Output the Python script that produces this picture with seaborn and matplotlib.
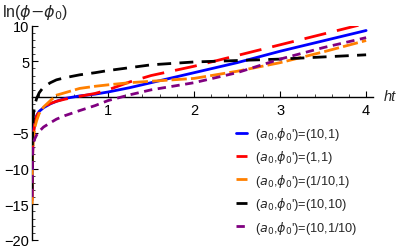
import matplotlib
matplotlib.use("Agg")
import matplotlib.pyplot as plt
from matplotlib.ticker import MultipleLocator
from matplotlib.lines import Line2D
import seaborn as sns
import pandas as pd

t = [0.117, 0.12, 0.125, 0.135, 0.15, 0.17, 0.2, 0.25, 0.33, 0.4, 0.5,
     0.67, 0.85, 1.0, 1.25, 1.5, 2.0, 2.5, 3.0, 3.5, 4.0]

blue_10_1 = [-14, -9, -6.5, -4.6, -3.4, -2.6, -2.0, -1.5, -0.95, -0.6, -0.2,
             0.15, 0.4, 0.7, 1.3, 2.0, 3.4, 4.8, 6.4, 7.85, 9.3]
red_1_1 = [-14.5, -9.5, -7, -5, -3.6, -2.7, -2.0, -1.4, -0.9, -0.6, -0.3,
           0.1, 0.5, 1.0, 2.1, 3.0, 4.3, 5.8, 7.3, 8.8, 10.3]
orange_01_1 = [-15, -10, -7.5, -5.5, -4.2, -3.3, -2.3, -1.4, -0.5, 0.25, 0.6,
               1.2, 1.5, 1.7, 2.0, 2.2, 2.6, 3.6, 4.8, 6.3, 7.9]
black_10_10 = [-13, -7, -4, -2.2, -1.0, -0.2, 0.6, 1.4, 2.0, 2.4, 2.7,
               3.1, 3.4, 3.7, 4.1, 4.5, 4.9, 5.1, 5.3, 5.6, 5.9]
purple_10_01 = [-14, -10, -7.5, -6.3, -5.8, -5.3, -4.8, -4.2, -3.6, -3.1, -2.6,
                -1.9, -1.2, -0.5, 0.3, 1.0, 2.0, 3.4, 5.3, 6.9, 8.3]

labels = [r"($a_0$,$\phi_0$')=(10,1)", r"($a_0$,$\phi_0$')=(1,1)",
          r"($a_0$,$\phi_0$')=(1/10,1)", r"($a_0$,$\phi_0$')=(10,10)",
          r"($a_0$,$\phi_0$')=(10,1/10)"]
series = [blue_10_1, red_1_1, orange_01_1, black_10_10, purple_10_01]
colors = ["#0000FF", "#FF0000", "#FF8000", "#000000", "#800080"]
dash_styles = ["", (8, 4), (5.5, 1.5), (5, 3), (3, 2)]

rows = []
for lab, ys in zip(labels, series):
    for tv, yv in zip(t, ys):
        rows.append({"ht": tv, "val": yv, "case": lab})
df = pd.DataFrame(rows)

sns.set_style("white")
plt.rcParams["font.family"] = ["Liberation Sans", "DejaVu Sans"]
plt.rcParams["mathtext.fontset"] = "dejavusans"

fig = plt.figure(figsize=(3.96, 2.51), dpi=100)
ax = fig.add_axes([32 / 396, 1 - 241 / 251, (373 - 32) / 396, (241 - 26.5) / 251])

sns.lineplot(data=df, x="ht", y="val", hue="case", style="case",
             palette=dict(zip(labels, colors)), dashes=dict(zip(labels, dash_styles)),
             hue_order=labels, style_order=labels, linewidth=2, sort=True,
             estimator=None, legend=False, ax=ax)

ax.set_xlim(0.116, 4.08)
ax.set_ylim(-20, 10)
ax.spines["top"].set_visible(False)
ax.spines["right"].set_visible(False)
ax.spines["bottom"].set_position(("data", 0))
for s in ("left", "bottom"):
    ax.spines[s].set_linewidth(1.0)
    ax.spines[s].set_color("black")
    ax.spines[s].set_zorder(1)

ax.set_xticks([1, 2, 3, 4])
ax.set_xticklabels(["1", "2", "3", "4"])
ax.set_yticks([-20, -15, -10, -5, 5, 10])
ax.set_yticklabels(["\u221220", "\u221215", "\u221210", "\u22125", "5", "10"])
ax.xaxis.set_minor_locator(MultipleLocator(0.2))
ax.yaxis.set_minor_locator(MultipleLocator(1))
ax.tick_params(axis="both", which="major", direction="in", length=4, width=0.8,
               labelsize=10.5, colors="black", bottom=True, left=True)
ax.tick_params(axis="both", which="minor", direction="in", length=2, width=0.6,
               bottom=True, left=True)
ax.tick_params(axis="x", pad=4)
ax.tick_params(axis="y", pad=2)
ax.set_xlabel("")
ax.set_ylabel("")

fig.text(2 / 396, 1 - 13 / 251, r"ln($\phi$$-$$\phi_0$)", fontsize=11.5,
         va="center", ha="left")
fig.text(384 / 396, 1 - 97 / 251, "ht", fontsize=10.5, style="italic",
         va="center", ha="left")

handles = [Line2D([0], [0], color=c, lw=2, linestyle=("-" if d == "" else (0, d)))
           for c, d in zip(colors, dash_styles)]
leg = ax.legend(handles, labels, loc="upper left",
                bbox_to_anchor=(236 / 396, 1 - 126 / 251),
                bbox_transform=fig.transFigure, frameon=False, fontsize=9.2,
                handlelength=0.9, handletextpad=0.6, labelspacing=0.5,
                borderaxespad=0, borderpad=0)

fig.savefig("out.png", dpi=100)
